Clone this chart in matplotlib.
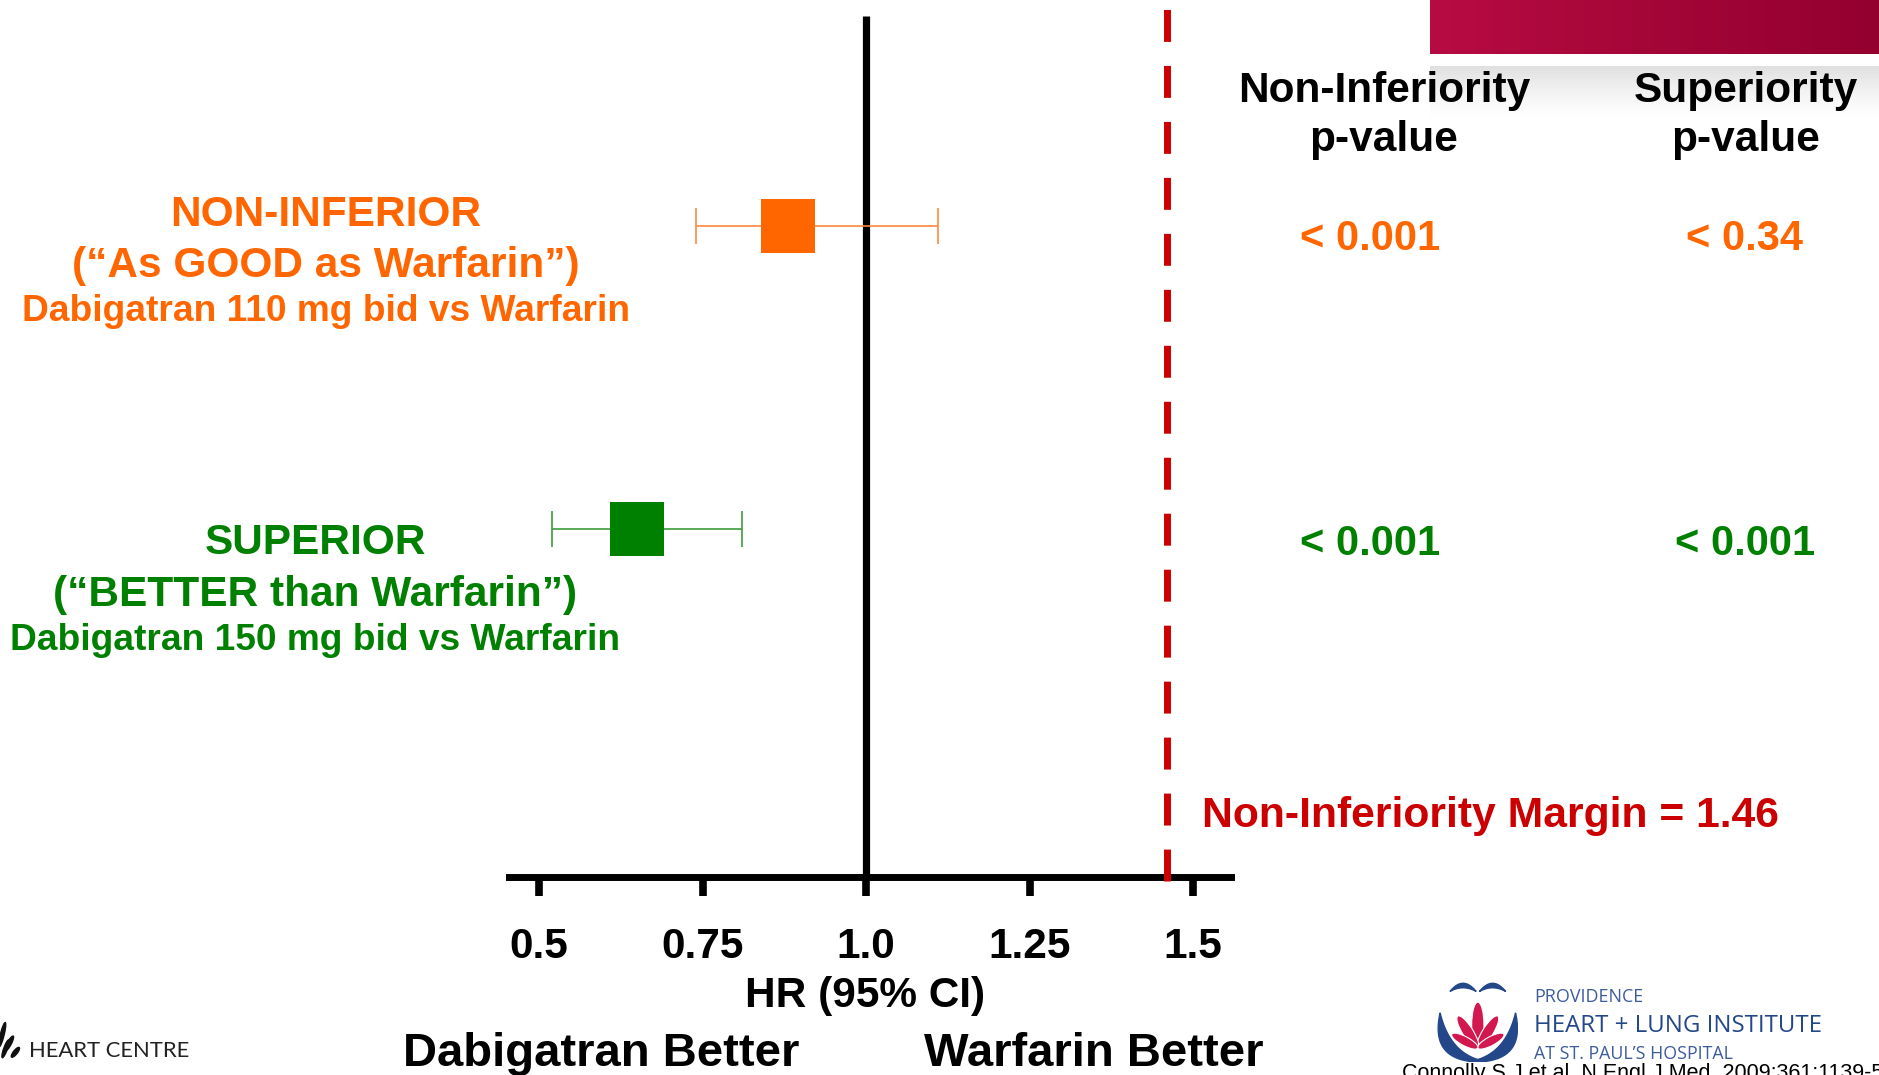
import numpy as np
import matplotlib
matplotlib.use("Agg")
import matplotlib.pyplot as plt
from matplotlib.colors import LinearSegmentedColormap
from matplotlib.patches import Ellipse, Polygon

# ---------------- data ----------------
comparisons = ["Dabigatran 110 mg bid vs Warfarin", "Dabigatran 150 mg bid vs Warfarin"]
verdicts = ["NON-INFERIOR", "SUPERIOR"]
verdict_notes = ["(\u201cAs GOOD as Warfarin\u201d)", "(\u201cBETTER than Warfarin\u201d)"]
hazard_ratio = [0.88, 0.65]
ci_lower = [0.74, 0.52]
ci_upper = [1.11, 0.81]
p_noninferiority = ["< 0.001", "< 0.001"]
p_superiority = ["< 0.34", "< 0.001"]
ni_margin = 1.46
x_ticks = [0.5, 0.75, 1.0, 1.25, 1.5]
x_tick_labels = ["0.5", "0.75", "1.0", "1.25", "1.5"]

# ---------------- style ----------------
plt.rcParams['font.family'] = ['Liberation Sans', 'DejaVu Sans']
plt.rcParams['lines.scale_dashes'] = False
W, H = 1879, 1075
fx = lambda x: x / W
fy = lambda y: 1 - y / H
series_colors = ['#FF6600', '#008000']
ci_colors = ['#FF8A3D', '#3C9C3C']
RED = '#CC0000'
NAVY = '#24478A'

fig = plt.figure(figsize=(W / 100, H / 100), dpi=100)
fig.patch.set_facecolor('white')

# ---------------- main forest axes ----------------
ax = fig.add_axes([fx(509), fy(877), (1231 - 509) / W, 877 / H])
ax.set_xlim(0.454, 1.558)
ax.set_ylim(0, 1)
ax.patch.set_alpha(0)
for s in ['left', 'right', 'top']:
    ax.spines[s].set_visible(False)
ax.spines['bottom'].set_linewidth(5)
ax.set_yticks([])
ax.set_xticks(x_ticks)
ax.set_xticklabels(x_tick_labels, fontsize=30.5, fontweight='bold')
ax.tick_params(axis='x', direction='out', length=14, width=5.5, pad=22, colors='black')

row_y = [0.742, 0.397]

ax.axvline(1.0, ymin=0, ymax=0.982, color='black', lw=5.2, zorder=2.6, solid_capstyle='butt')
ax.axvline(ni_margin, ymin=-0.004, ymax=0.991, color=RED, lw=5, linestyle=(0, (23, 17.3)),
           zorder=3, clip_on=False)

for i in range(len(hazard_ratio)):
    err = [[hazard_ratio[i] - ci_lower[i]], [ci_upper[i] - hazard_ratio[i]]]
    # confidence interval with end caps
    ax.errorbar([hazard_ratio[i]], [row_y[i]], xerr=err, fmt='none', ecolor=ci_colors[i],
                elinewidth=1.2, capsize=13, capthick=1.2, zorder=4)
    # point estimate
    ax.plot([hazard_ratio[i]], [row_y[i]], linestyle='none', marker='s', ms=39,
            mfc=series_colors[i], mec=series_colors[i], mew=0, zorder=5)

# ---------------- left labels ----------------
label_x = [326, 315]
label_base = [(226, 277, 321), (554, 606, 650)]
for i in range(2):
    b1, b2, b3 = label_base[i]
    c = series_colors[i]
    fig.text(fx(label_x[i]), fy(b1), verdicts[i], color=c, fontsize=30.5, fontweight='bold',
             ha='center', va='baseline')
    fig.text(fx(label_x[i]), fy(b2), verdict_notes[i], color=c, fontsize=30.5, fontweight='bold',
             ha='center', va='baseline')
    fig.text(fx(label_x[i]), fy(b3), comparisons[i], color=c, fontsize=26.7, fontweight='bold',
             ha='center', va='baseline')

# ---------------- banner top right ----------------
bax = fig.add_axes([fx(1430), fy(54), 449 / W, 54 / H])
bcmap = LinearSegmentedColormap.from_list('banner', ['#B70B43', '#A40638', '#930030'])
bax.imshow(np.linspace(0, 1, 256)[None, :], aspect='auto', cmap=bcmap, extent=[0, 1, 0, 1])
bax.axis('off')
sax = fig.add_axes([fx(1430), fy(118), 449 / W, 52 / H])
grad = np.zeros((64, 2, 4))
grad[..., :3] = 0.88
grad[..., 3] = np.linspace(1, 0, 64)[:, None] ** 1.3
sax.imshow(grad, aspect='auto', extent=[0, 1, 0, 1])
sax.axis('off')

# ---------------- p-value columns ----------------
col_x = [1384, 1746]
headers = ["Non-Inferiority", "Superiority"]
for j in range(2):
    fig.text(fx(col_x[j]), fy(102), headers[j], fontsize=30.5, fontweight='bold', ha='center',
             va='baseline')
    fig.text(fx(col_x[j]), fy(151), "p-value", fontsize=30.5, fontweight='bold', ha='center',
             va='baseline')
p_base = [250, 555]
for i in range(2):
    fig.text(fx(1370), fy(p_base[i]), p_noninferiority[i], color=series_colors[i], fontsize=30,
             fontweight='bold', ha='center', va='baseline')
    fig.text(fx(1745), fy(p_base[i]), p_superiority[i], color=series_colors[i], fontsize=30,
             fontweight='bold', ha='center', va='baseline')

fig.text(fx(1202), fy(827), f"Non-Inferiority Margin = {ni_margin:.2f}", color=RED, fontsize=30.7,
         fontweight='bold', ha='left', va='baseline')

# ---------------- axis captions ----------------
fig.text(fx(865), fy(1007), "HR (95% CI)", fontsize=30.5, fontweight='bold', ha='center',
         va='baseline')
fig.text(fx(601), fy(1066), "Dabigatran Better", fontsize=34, fontweight='bold', ha='center',
         va='baseline')
fig.text(fx(1094), fy(1066), "Warfarin Better", fontsize=34, fontweight='bold', ha='center',
         va='baseline')

# ---------------- bottom-left logo ----------------
lax = fig.add_axes([0, fy(1062), 22 / W, 44 / H])
lax.set_xlim(0, 1)
lax.set_ylim(0, 1)
lax.axis('off')
for (cx, cy, w, h, a) in [(0.1, 0.62, 0.16, 0.62, -28), (0.42, 0.42, 0.14, 0.5, -50),
                          (0.25, 0.3, 0.14, 0.5, -38), (0.7, 0.22, 0.12, 0.42, -62)]:
    lax.add_patch(Ellipse((cx, cy), w, h, angle=a, color='#111111'))
fig.text(fx(29), fy(1057), "HEART CENTRE", fontsize=15.8, family=['Lato', 'DejaVu Sans'],
         color='#222222', ha='left', va='baseline')

# ---------------- bottom-right logo ----------------
def qbez(p0, p1, p2, n=30):
    t = np.linspace(0, 1, n)[:, None]
    p0, p1, p2 = map(np.array, (p0, p1, p2))
    return (1 - t) ** 2 * p0 + 2 * (1 - t) * t * p1 + t ** 2 * p2

eax = fig.add_axes([fx(1436), fy(1062), 82 / W, 82 / H])
eax.set_xlim(0, 1)
eax.set_ylim(0, 1)
eax.axis('off')
cxm = 0.51
left_leaf = np.vstack([qbez((0.05, 0.6), (-0.08, 0.02), (cxm, 0.0)),
                       qbez((cxm, 0.03), (0.16, 0.14), (0.05, 0.6))])
right_leaf = left_leaf.copy()
right_leaf[:, 0] = 2 * cxm - right_leaf[:, 0]
eax.add_patch(Polygon(left_leaf, closed=True, color=NAVY))
eax.add_patch(Polygon(right_leaf, closed=True, color=NAVY))
left_wing = np.vstack([qbez((0.17, 0.86), (0.33, 1.06), (0.49, 0.86)),
                       qbez((0.49, 0.86), (0.33, 0.95), (0.17, 0.86))])
right_wing = left_wing.copy()
right_wing[:, 0] = 2 * cxm - right_wing[:, 0]
eax.add_patch(Polygon(left_wing, closed=True, color=NAVY))
eax.add_patch(Polygon(right_wing, closed=True, color=NAVY))
base = np.array([cxm, 0.17])
for ang, ln, wd in [(0, 0.56, 0.15), (32, 0.46, 0.13), (-32, 0.46, 0.13), (62, 0.36, 0.11),
                    (-62, 0.36, 0.11)]:
    d = np.array([np.sin(np.radians(ang)), np.cos(np.radians(ang))])
    c = base + d * ln / 2
    eax.add_patch(Ellipse(c, wd, ln, angle=-ang, facecolor='#D2184F', edgecolor='white', lw=0.8))

logo_font = ['Open Sans', 'DejaVu Sans']
fig.text(fx(1534), fy(1002), "PROVIDENCE", fontsize=12.9, family=logo_font, color='#3D5C9C',
         ha='left', va='baseline')
fig.text(fx(1534), fy(1032), "HEART + LUNG INSTITUTE", fontsize=17.3, family=logo_font, color=NAVY,
         ha='left', va='baseline')
fig.text(fx(1534), fy(1059), "AT ST. PAUL\u2019S HOSPITAL", fontsize=12.8, family=logo_font,
         color='#3D5C9C', ha='left', va='baseline')
fig.text(fx(1402), fy(1079), "Connolly S J et al. N Engl J Med. 2009;361:1139-51.", fontsize=15.5,
         color='black', ha='left', va='baseline')

fig.savefig("out.png", dpi=100)
